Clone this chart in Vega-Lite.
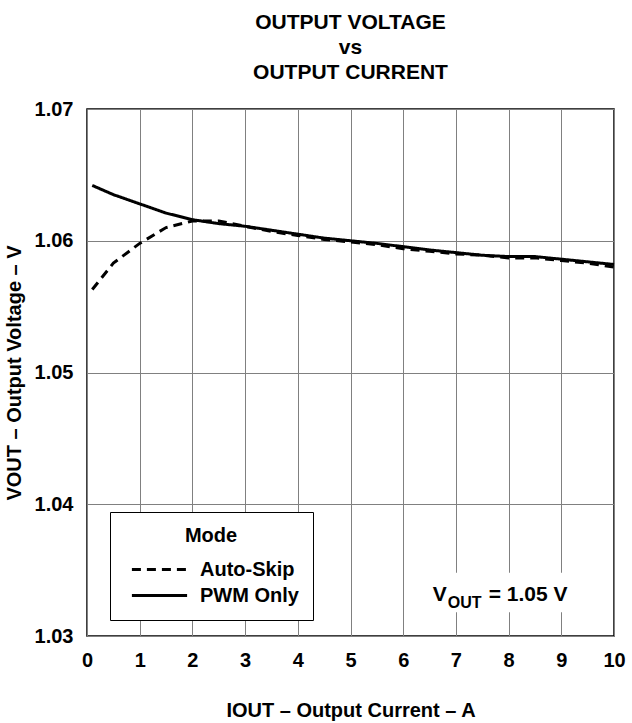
{
  "$schema": "https://vega.github.io/schema/vega-lite/v6.json",
  "width": 527,
  "height": 527,
  "autosize": {"type": "none"},
  "padding": {"left": 87, "top": 109, "right": 18, "bottom": 87},
  "background": "white",
  "title": {
    "text": ["OUTPUT VOLTAGE", "vs", "OUTPUT CURRENT"],
    "fontSize": 21,
    "fontWeight": "bold",
    "lineHeight": 25,
    "color": "black",
    "anchor": "middle",
    "frame": "group",
    "offset": 16
  },
  "config": {
    "font": "Liberation Sans",
    "view": {"stroke": "black", "strokeWidth": 1.5},
    "axis": {
      "grid": true,
      "gridColor": "#808080",
      "gridWidth": 1,
      "domain": false,
      "ticks": false,
      "labelFontSize": 20,
      "labelFontWeight": "bold",
      "labelColor": "black",
      "titleFontSize": 20,
      "titleFontWeight": "bold",
      "titleColor": "black"
    },
    "legend": {
      "orient": "none",
      "legendX": 23,
      "legendY": 403,
      "fillColor": "white",
      "strokeColor": "black",
      "padding": 14,
      "titleFontSize": 20,
      "titleFontWeight": "bold",
      "titleColor": "black",
      "titleAnchor": "middle",
      "titleAlign": "center",
      "titlePadding": 10,
      "labelFontSize": 20,
      "labelFontWeight": "bold",
      "labelColor": "black",
      "labelOffset": 27,
      "symbolOffset": 22,
      "symbolType": "M-2.3,0L2.3,0",
      "symbolSize": 576,
      "symbolStrokeWidth": 3,
      "symbolStrokeColor": "black",
      "symbolFillColor": "transparent",
      "rowPadding": 2
    }
  },
  "datasets": {
    "curves": [
      {"I": 0.1, "V": 1.0642, "Mode": "PWM Only"},
      {"I": 0.5, "V": 1.0635, "Mode": "PWM Only"},
      {"I": 1.0, "V": 1.0628, "Mode": "PWM Only"},
      {"I": 1.5, "V": 1.0621, "Mode": "PWM Only"},
      {"I": 2.0, "V": 1.0616, "Mode": "PWM Only"},
      {"I": 2.5, "V": 1.0613, "Mode": "PWM Only"},
      {"I": 3.0, "V": 1.0611, "Mode": "PWM Only"},
      {"I": 3.5, "V": 1.0608, "Mode": "PWM Only"},
      {"I": 4.0, "V": 1.0605, "Mode": "PWM Only"},
      {"I": 4.5, "V": 1.0602, "Mode": "PWM Only"},
      {"I": 5.0, "V": 1.0600, "Mode": "PWM Only"},
      {"I": 5.5, "V": 1.0598, "Mode": "PWM Only"},
      {"I": 6.0, "V": 1.05955, "Mode": "PWM Only"},
      {"I": 6.5, "V": 1.0593, "Mode": "PWM Only"},
      {"I": 7.0, "V": 1.0591, "Mode": "PWM Only"},
      {"I": 7.5, "V": 1.0589, "Mode": "PWM Only"},
      {"I": 8.0, "V": 1.0588, "Mode": "PWM Only"},
      {"I": 8.5, "V": 1.0588, "Mode": "PWM Only"},
      {"I": 9.0, "V": 1.0586, "Mode": "PWM Only"},
      {"I": 9.5, "V": 1.0584, "Mode": "PWM Only"},
      {"I": 10.0, "V": 1.0582, "Mode": "PWM Only"},
      {"I": 0.1, "V": 1.0563, "Mode": "Auto-Skip"},
      {"I": 0.5, "V": 1.0583, "Mode": "Auto-Skip"},
      {"I": 1.0, "V": 1.0598, "Mode": "Auto-Skip"},
      {"I": 1.5, "V": 1.0610, "Mode": "Auto-Skip"},
      {"I": 2.0, "V": 1.0615, "Mode": "Auto-Skip"},
      {"I": 2.5, "V": 1.0615, "Mode": "Auto-Skip"},
      {"I": 3.0, "V": 1.0611, "Mode": "Auto-Skip"},
      {"I": 3.5, "V": 1.0607, "Mode": "Auto-Skip"},
      {"I": 4.0, "V": 1.0604, "Mode": "Auto-Skip"},
      {"I": 4.5, "V": 1.0601, "Mode": "Auto-Skip"},
      {"I": 5.0, "V": 1.0599, "Mode": "Auto-Skip"},
      {"I": 5.5, "V": 1.0597, "Mode": "Auto-Skip"},
      {"I": 6.0, "V": 1.0594, "Mode": "Auto-Skip"},
      {"I": 6.5, "V": 1.0592, "Mode": "Auto-Skip"},
      {"I": 7.0, "V": 1.0590, "Mode": "Auto-Skip"},
      {"I": 7.5, "V": 1.0589, "Mode": "Auto-Skip"},
      {"I": 8.0, "V": 1.0587, "Mode": "Auto-Skip"},
      {"I": 8.5, "V": 1.0587, "Mode": "Auto-Skip"},
      {"I": 9.0, "V": 1.0585, "Mode": "Auto-Skip"},
      {"I": 9.5, "V": 1.0583, "Mode": "Auto-Skip"},
      {"I": 10.0, "V": 1.0580, "Mode": "Auto-Skip"}
    ],
    "note": [
      {"x": 6.45, "x2": 9.4, "y": 1.0348, "y2": 1.0318, "tx": 6.56, "ty": 1.0331}
    ]
  },
  "layer": [
    {
      "data": {"name": "note"},
      "mark": {"type": "rect", "fill": "white"},
      "encoding": {
        "x": {"field": "x", "type": "quantitative", "scale": {"domain": [0, 10], "nice": false}},
        "x2": {"field": "x2"},
        "y": {"field": "y", "type": "quantitative", "scale": {"domain": [1.03, 1.07], "nice": false}},
        "y2": {"field": "y2"}
      }
    },
    {
      "data": {"name": "curves"},
      "mark": {"type": "line", "stroke": "black", "strokeWidth": 3},
      "encoding": {
        "x": {
          "field": "I", "type": "quantitative",
          "scale": {"domain": [0, 10], "nice": false},
          "axis": {
            "values": [0, 1, 2, 3, 4, 5, 6, 7, 8, 9, 10],
            "labelFlush": false,
            "labelPadding": 14,
            "title": "IOUT – Output Current – A",
            "titlePadding": 30
          }
        },
        "y": {
          "field": "V", "type": "quantitative",
          "scale": {"domain": [1.03, 1.07], "nice": false, "zero": false},
          "axis": {
            "values": [1.03, 1.04, 1.05, 1.06, 1.07],
            "format": ".2f",
            "labelFlush": false,
            "labelPadding": 14,
            "title": "VOUT – Output Voltage – V",
            "titlePadding": 10
          }
        },
        "strokeDash": {
          "field": "Mode", "type": "nominal",
          "scale": {"domain": ["Auto-Skip", "PWM Only"], "range": [[9, 6], [1, 0]]},
          "legend": {"title": "Mode"}
        }
      }
    },
    {
      "data": {"name": "note"},
      "mark": {"type": "text", "text": "V", "align": "left", "baseline": "middle", "fontSize": 21, "fontWeight": "bold", "color": "black"},
      "encoding": {
        "x": {"field": "tx", "type": "quantitative"},
        "y": {"field": "ty", "type": "quantitative"}
      }
    },
    {
      "data": {"name": "note"},
      "mark": {"type": "text", "text": "OUT", "align": "left", "baseline": "middle", "fontSize": 16, "fontWeight": "bold", "color": "black", "dx": 15, "dy": 8},
      "encoding": {
        "x": {"field": "tx", "type": "quantitative"},
        "y": {"field": "ty", "type": "quantitative"}
      }
    },
    {
      "data": {"name": "note"},
      "mark": {"type": "text", "text": "= 1.05 V", "align": "left", "baseline": "middle", "fontSize": 21, "fontWeight": "bold", "color": "black", "dx": 56},
      "encoding": {
        "x": {"field": "tx", "type": "quantitative"},
        "y": {"field": "ty", "type": "quantitative"}
      }
    }
  ]
}
